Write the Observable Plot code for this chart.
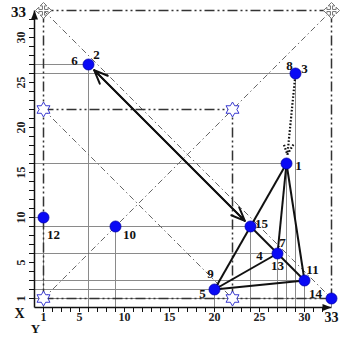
<!DOCTYPE html>
<html><head><meta charset="utf-8">
<script src="https://cdn.jsdelivr.net/npm/d3@7"></script>
<script src="https://cdn.jsdelivr.net/npm/@observablehq/plot@0.6"></script>
<style>
body{margin:0;background:#fff;}
#chart svg{display:block;}
</style></head><body><div id="chart"></div>
<script>
// ---- data ----
const pointX = [28, 6, 29, 24, 27, 30, 20, 33, 1, 9];
const pointY = [16, 27, 26, 9, 6, 3, 2, 1, 10, 9];

const labelText = ["1","2","3","4","5","6","7","8","9","10","11","12","13","14","15"];
const labelX = [28, 6, 29, 27, 20, 6, 27, 29, 20, 9, 30, 1, 27, 33, 24];
const labelY = [16, 27, 26, 6, 2, 27, 6, 26, 2, 9, 3, 10, 6, 1, 9];

const starX = [1, 22, 1, 22];
const starY = [1, 1, 22, 22];
const crossX = [1, 33];
const crossY = [33, 33];

// heavy dash-dot frame lines
const frameX1 = [1, 1, 1, 1, 22, 33];
const frameY1 = [33, 22, 1, 1, 1, 1];
const frameX2 = [33, 22, 33, 1, 22, 33];
const frameY2 = [33, 22, 1, 33, 22, 33];
// light diagonal lines
const diagX1 = [1, 1, 1];
const diagY1 = [33, 1, 22];
const diagX2 = [33, 33, 22];
const diagY2 = [1, 33, 1];

// solid edges (indices into points)
const edgeFrom = [0, 0, 0, 3, 6, 6];
const edgeTo   = [6, 4, 5, 5, 4, 5];
// double-headed arrow and dotted arrow
const dblFrom = [1, 3], dblTo = [3, 1];
const dotFrom = [2], dotTo = [0];

const axisMax = 33;
const xTicks = d3.range(1, 33);
const yTicks = d3.range(1, 33);
const tickLabels = [1, 5, 10, 15, 20, 25, 30];

// ---- layout (label offsets in px) ----
const labelOffset = {"1":[12,2],"2":[8,-10],"3":[9,-5],"4":[-18,2],"5":[-12,4],"6":[-14,-4],
  "7":[5,-11],"8":[-6,-8],"9":[-4,-16],"10":[14,8],"11":[8,-11],"12":[10,17],"13":[0,12],
  "14":[-16,-5],"15":[11,-3]};

const points = pointX.map((x, i) => ({x, y: pointY[i]}));
const labels = labelText.map((t, i) => ({text: t, x: labelX[i], y: labelY[i]}));
const stars = starX.map((x, i) => ({x, y: starY[i]}));
const crosses = crossX.map((x, i) => ({x, y: crossY[i]}));
const frame = frameX1.map((x, i) => ({x1: x, y1: frameY1[i], x2: frameX2[i], y2: frameY2[i]}));
const diags = diagX1.map((x, i) => ({x1: x, y1: diagY1[i], x2: diagX2[i], y2: diagY2[i]}));
const seg = (a, b) => a.map((f, i) => ({x1: pointX[f], y1: pointY[f], x2: pointX[b[i]], y2: pointY[b[i]]}));
const edges = seg(edgeFrom, edgeTo);
const dbl = seg(dblFrom, dblTo);
const dotted = seg(dotFrom, dotTo);
const axes = [{x1: 0, y1: 0, x2: axisMax, y2: 0}, {x1: 0, y1: 0, x2: 0, y2: axisMax}];

const hexagram = {draw(ctx, size) {
  const R = Math.sqrt(size / Math.PI), r = R / Math.sqrt(3);
  for (let k = 0; k < 12; k++) {
    const a = k * Math.PI / 6 - Math.PI / 2, rad = k % 2 ? r : R;
    const px = rad * Math.cos(a), py = rad * Math.sin(a);
    k ? ctx.lineTo(px, py) : ctx.moveTo(px, py);
  }
  ctx.closePath();
}};
const moveCross = {draw(ctx, size) {
  const R = Math.sqrt(size / Math.PI), a = R * 0.42, h = R * 0.42, w = R * 0.13;
  const q = [[0,-R],[h,-R+a],[w,-R+a],[w,-w],[R-a,-w],[R-a,-h],[R,0],[R-a,h],[R-a,w],[w,w],
    [w,R-a],[h,R-a],[0,R],[-h,R-a],[-w,R-a],[-w,w],[-R+a,w],[-R+a,h],[-R,0],[-R+a,-h],
    [-R+a,-w],[-w,-w],[-w,-R+a],[-h,-R+a]];
  q.forEach((p, i) => i ? ctx.lineTo(p[0], p[1]) : ctx.moveTo(p[0], p[1]));
  ctx.closePath();
}};
const filledArrow = (color) => d3.create("svg:marker")
  .attr("viewBox", "-10 -5 10 10").attr("markerWidth", 10).attr("markerHeight", 10)
  .attr("markerUnits", "userSpaceOnUse").attr("refX", 0).attr("refY", 0)
  .attr("orient", "auto").attr("fill", color).attr("stroke", "none")
  .call(m => m.append("path").attr("d", "M-9,-3.5L0,0L-9,3.5Z")).node();

const font = "'Liberation Serif', 'DejaVu Serif', serif";
const labelMarks = labels.map(l => Plot.text([l], {x: "x", y: "y", text: "text",
  dx: labelOffset[l.text][0], dy: labelOffset[l.text][1], fontSize: 13, fontWeight: "bold", fill: "#111"}));

const chart = Plot.plot({
  width: 350, height: 343,
  marginLeft: 34, marginRight: 19, marginTop: 10, marginBottom: 36,
  x: {domain: [0, 33], axis: null},
  y: {domain: [0, 33], axis: null},
  style: {background: "white", fontFamily: font},
  marks: [
    Plot.ruleY(points, {y: "y", x1: 0, x2: "x", stroke: "#8a8a8a", strokeWidth: 1}),
    Plot.ruleX(points, {x: "x", y1: 0, y2: "y", stroke: "#8a8a8a", strokeWidth: 1}),
    Plot.link(diags, {x1: "x1", y1: "y1", x2: "x2", y2: "y2", stroke: "#666", strokeWidth: 1, strokeDasharray: "6,3,1.5,3"}),
    Plot.link(frame, {x1: "x1", y1: "y1", x2: "x2", y2: "y2", stroke: "#333", strokeWidth: 1.5, strokeDasharray: "10,3,2,3,2,3"}),
    Plot.link(edges, {x1: "x1", y1: "y1", x2: "x2", y2: "y2", stroke: "#111", strokeWidth: 2}),
    Plot.arrow(dbl, {x1: "x1", y1: "y1", x2: "x2", y2: "y2", stroke: "#111", strokeWidth: 2, headLength: 11, headAngle: 45, insetStart: 8, insetEnd: 8}),
    Plot.arrow(dotted, {x1: "x1", y1: "y1", x2: "x2", y2: "y2", stroke: "#111", strokeWidth: 2.2, strokeDasharray: "1.6,1.8", strokeLinecap: "butt", headLength: 8, headAngle: 50, insetStart: 6, insetEnd: 9}),
    Plot.axisX({ticks: xTicks, tickSize: 5, tickFormat: () => "", stroke: "#111"}),
    Plot.axisY({ticks: yTicks, tickSize: 5, tickFormat: () => "", stroke: "#111"}),
    Plot.link(axes, {x1: "x1", y1: "y1", x2: "x2", y2: "y2", stroke: "#111", strokeWidth: 1.5, markerEnd: filledArrow}),
    Plot.text(tickLabels, {x: d => d, y: 0, text: d => String(d), dy: 10, fontSize: 12, fontWeight: "bold", fill: "#222"}),
    Plot.text(tickLabels, {x: 0, y: d => d, text: d => String(d), dx: -13, rotate: -90, fontSize: 12, fontWeight: "bold", fill: "#222"}),
    Plot.text([axisMax], {x: d => d, y: 0, text: d => String(d), dy: 10, fontSize: 14, fontWeight: "bold", fill: "#111"}),
    Plot.text([axisMax], {x: 0, y: d => d, text: d => String(d), dx: -16, dy: 2, fontSize: 15, fontWeight: "bold", fill: "#111"}),
    Plot.text(["X"], {x: 0, y: 0, text: d => d, dx: -15, dy: 6, fontSize: 14, fontWeight: "bold", fill: "#111"}),
    Plot.text(["Y"], {x: 0, y: 0, text: d => d, dx: 1, dy: 21, fontSize: 13, fontWeight: "bold", fill: "#111"}),
    Plot.dot(stars, {x: "x", y: "y", r: 7.5, symbol: hexagram, stroke: "#3a3ad0", fill: "white", strokeWidth: 1}),
    Plot.dot(crosses, {x: "x", y: "y", r: 8, symbol: moveCross, stroke: "#777", fill: "white", strokeWidth: 1}),
    Plot.dot(points, {x: "x", y: "y", r: 5.5, fill: "#0a0af5", stroke: "#0000a8", strokeWidth: 0.8}),
    ...labelMarks
  ]
});
document.getElementById("chart").append(chart);
</script></body></html>
